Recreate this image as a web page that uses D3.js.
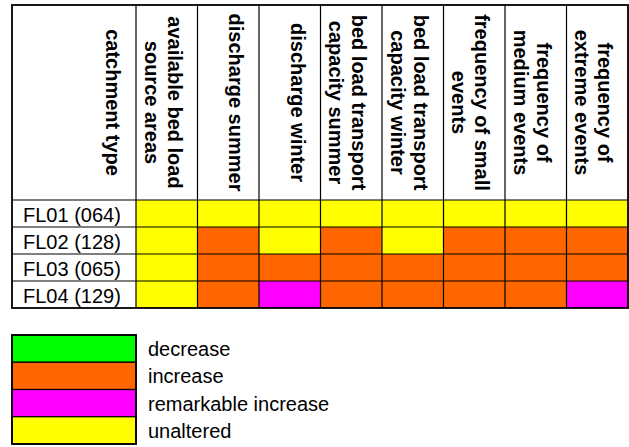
<!DOCTYPE html>
<html lang="en">
<head>
    <meta charset="UTF-8">
    <script src="https://d3js.org/d3.v7.min.js"></script>
    <title>Catchment changes</title>
    <style>
        body { margin: 0; background: #fff; }
        text { font-family: "Liberation Sans", Arial, sans-serif; }
    </style>
</head>
<body>
<div id="viz"></div>
<script>
    // column headers (each entry = lines of the rotated header)
    const firstHeader = ["catchment type"];
    const headers = [
        ["available bed load", "source areas"],
        ["discharge summer"],
        ["discharge winter"],
        ["bed load transport", "capacity summer"],
        ["bed load transport", "capacity winter"],
        ["frequency of small", "events"],
        ["frequency of", "medium events"],
        ["frequency of", "extreme events"]
    ];

    // catchments (rows)
    const catchments = ["FL01 (064)", "FL02 (128)", "FL03 (065)", "FL04 (129)"];

    // status of every cell, one list per catchment
    const fl01 = ["unaltered", "unaltered", "unaltered", "unaltered", "unaltered", "unaltered", "unaltered", "unaltered"];
    const fl02 = ["unaltered", "increase", "unaltered", "increase", "unaltered", "increase", "increase", "increase"];
    const fl03 = ["unaltered", "increase", "increase", "increase", "increase", "increase", "increase", "increase"];
    const fl04 = ["unaltered", "increase", "remarkable increase", "increase", "increase", "increase", "increase", "remarkable increase"];

    // legend categories and their colours
    const categories = ["decrease", "increase", "remarkable increase", "unaltered"];
    const catColors = ["#00ff00", "#ff6600", "#ff00ff", "#ffff00"];

    const width = 629, height = 447;

    const svg = d3.select("#viz")
        .append("svg")
        .attr("width", width)
        .attr("height", height);

    const color = d3.scaleOrdinal().domain(categories).range(catColors);

    // table geometry
    const tLeft = 12, labelRight = 136, tRight = 628;
    const tTop = 5, headBottom = 200, tBottom = 308;

    const x = d3.scaleBand()
        .domain(d3.range(headers.length))
        .range([labelRight, tRight]);
    const y = d3.scaleBand()
        .domain(catchments)
        .range([headBottom, tBottom]);

    const cells = [fl01, fl02, fl03, fl04].flatMap((row, r) =>
        row.map((v, c) => ({row: catchments[r], col: c, value: v})));

    // coloured cells
    svg.selectAll(".cell")
        .data(cells)
        .join("rect")
        .attr("class", "cell")
        .attr("x", d => x(d.col))
        .attr("y", d => y(d.row))
        .attr("width", x.bandwidth())
        .attr("height", y.bandwidth())
        .style("fill", d => color(d.value));

    // grid lines
    const grid = svg.append("g").style("stroke", "#000").style("stroke-width", 1.2);
    grid.selectAll(".vline")
        .data([labelRight].concat(d3.range(1, headers.length).map(i => x(i))))
        .join("line")
        .attr("x1", d => d).attr("x2", d => d)
        .attr("y1", tTop).attr("y2", tBottom);
    grid.selectAll(".hline")
        .data([headBottom].concat(catchments.slice(1).map(c => y(c))))
        .join("line")
        .attr("x1", tLeft).attr("x2", tRight)
        .attr("y1", d => d).attr("y2", d => d);
    svg.append("rect")
        .attr("x", tLeft).attr("y", tTop)
        .attr("width", tRight - tLeft).attr("height", tBottom - tTop)
        .style("fill", "none").style("stroke", "#000").style("stroke-width", 1.8);

    // rotated headers
    const headMid = (tTop + headBottom) / 2;
    const allHeads = [{lines: firstHeader, r: labelRight}]
        .concat(headers.map((h, i) => ({lines: h, r: x(i) + x.bandwidth()})));
    const head = svg.selectAll(".head")
        .data(allHeads)
        .join("text")
        .attr("class", "head")
        .attr("transform", d => `translate(${d.r - 30}, ${headMid}) rotate(90)`)
        .attr("text-anchor", "middle")
        .style("font-size", "20px")
        .style("font-weight", "bold");
    head.selectAll("tspan")
        .data(d => d.lines)
        .join("tspan")
        .attr("x", 0)
        .attr("dy", (d, i) => i === 0 ? 0 : 23)
        .text(d => d);

    // row labels
    svg.selectAll(".rowlab")
        .data(catchments)
        .join("text")
        .attr("class", "rowlab")
        .attr("x", tLeft + 11)
        .attr("y", d => y(d) + 22)
        .style("font-size", "20px")
        .text(d => d);

    // legend
    const ly = d3.scaleBand()
        .domain(categories)
        .range([335, 444]);
    const legend = svg.append("g");
    legend.selectAll("rect")
        .data(categories)
        .join("rect")
        .attr("x", tLeft)
        .attr("y", d => ly(d))
        .attr("width", labelRight - tLeft)
        .attr("height", ly.bandwidth())
        .style("fill", d => color(d))
        .style("stroke", "#000")
        .style("stroke-width", 1.2);
    legend.append("rect")
        .attr("x", tLeft).attr("y", 335)
        .attr("width", labelRight - tLeft).attr("height", 444 - 335)
        .style("fill", "none").style("stroke", "#000").style("stroke-width", 1.8);
    legend.selectAll("text")
        .data(categories)
        .join("text")
        .attr("x", 148)
        .attr("y", d => ly(d) + 21)
        .style("font-size", "20px")
        .text(d => d);
</script>
</body>
</html>
